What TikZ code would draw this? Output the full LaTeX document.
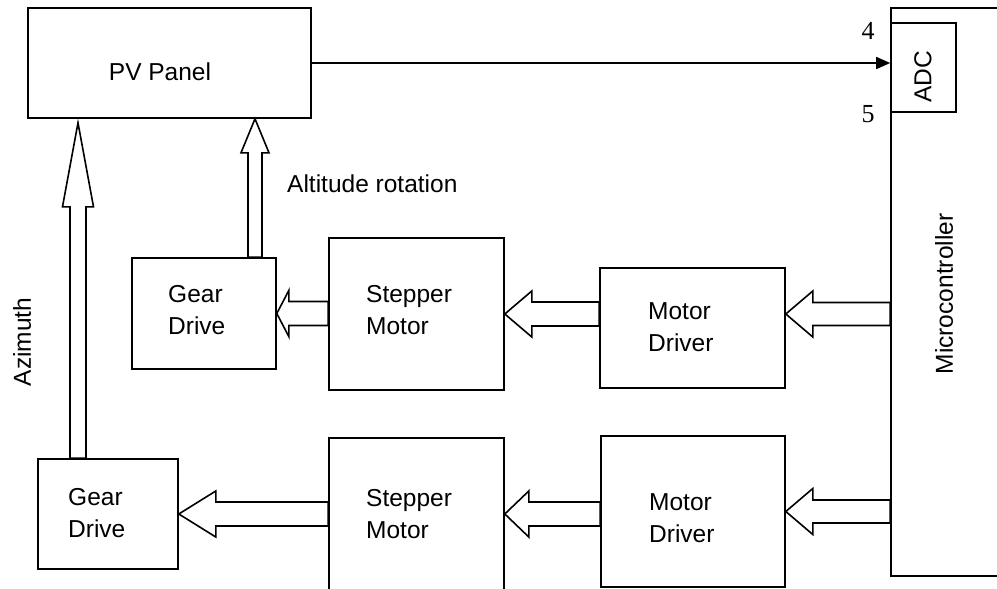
\documentclass[tikz,border=0pt]{standalone}
\usepackage{fontspec}
\setmainfont{Liberation Sans}
\newfontfamily\timesfont{Liberation Serif}
\usetikzlibrary{arrows.meta,calc}

\newcommand\hollowleft[5]{%
  \path[hollow] let \p1=#1, \p2=#2 in
    (\x1,\y1) -- (\x1+#3pt,\y1+#5pt) -- (\x1+#3pt,\y1+#4pt) -- (\x2,\y1+#4pt)
    -- (\x2,\y1-#4pt) -- (\x1+#3pt,\y1-#4pt) -- (\x1+#3pt,\y1-#5pt) -- cycle;}
\newcommand\hollowup[5]{%
  \path[hollow] let \p1=#1, \p2=#2 in
    (\x1,\y1) -- (\x1+#5pt,\y1-#3pt) -- (\x1+#4pt,\y1-#3pt) -- (\x1+#4pt,\y2)
    -- (\x1-#4pt,\y2) -- (\x1-#4pt,\y1-#3pt) -- (\x1-#5pt,\y1-#3pt) -- cycle;}

\begin{document}
\begin{tikzpicture}[x=1pt,y=-1pt,
  box/.style={draw, rectangle, inner sep=0pt, line width=1.6pt},
  lbl/.style={inner sep=0pt, font=\fontsize{24.5}{32}\selectfont, align=left},
  num/.style={inner sep=0pt, font=\timesfont\fontsize{26}{30}\selectfont},
  hollow/.style={draw, line width=1.6pt, line join=miter}]

\useasboundingbox (0,0) rectangle (997,589);
\clip (0,0) rectangle (997,589);

% boxes
\node[box, minimum width=283pt, minimum height=110pt] (pv)  at (169.5,63) {};
\node[box, minimum width=144pt, minimum height=111pt] (gd1) at (204,313.5) {};
\node[box, minimum width=175pt, minimum height=152pt] (sm1) at (416.5,314) {};
\node[box, minimum width=185pt, minimum height=120pt] (md1) at (692.5,328) {};
\node[box, minimum width=140pt, minimum height=110pt] (gd2) at (108,514) {};
\node[box, minimum width=175pt, minimum height=202pt] (sm2) at (416.5,539) {};
\node[box, minimum width=184pt, minimum height=151pt] (md2) at (693,511.5) {};
\node[box, minimum width=119pt, minimum height=568pt] (mc)  at (950.5,292) {};
\node[box, minimum width=65pt,  minimum height=89pt]  (adc) at (923.5,67.5) {};

% labels
\node[lbl] (tpv) at (160,72) {PV Panel};
\node[lbl, anchor=west] (tgd1) at (168,310.5) {Gear\\Drive};
\node[lbl, anchor=west] (tsm1) at (366,310.5) {Stepper\\Motor};
\node[lbl, anchor=west] (tmd1) at (648,327) {Motor\\Driver};
\node[lbl, anchor=west] (tgd2) at (68,513.5) {Gear\\Drive};
\node[lbl, anchor=west] (tsm2) at (366,514) {Stepper\\Motor};
\node[lbl, anchor=west] (tmd2) at (649,518.5) {Motor\\Driver};
\node[lbl, rotate=90] (tmc) at (944,294) {Microcontroller};
\node[lbl, rotate=90] (tadc) at (923,77) {ADC};
\node[lbl, rotate=90] (taz) at (22,342) {Azimuth};
\node[lbl, anchor=west] (talt) at (287,184) {Altitude rotation};
\node[num] (n4) at (868,31) {4};
\node[num] (n5) at (868,114) {5};

% signal arrow
\draw[line width=1.6pt, -{Triangle[length=14pt,width=12pt]}] (pv.east) -- (pv.east -| adc.west);

% hollow arrows (horizontal)
\hollowleft{(gd1.east)}{(sm1.west)}{12}{12}{23}
\hollowleft{(sm1.east)}{(md1.west)}{27}{12}{23}
\hollowleft{(md1.east |- sm1.east)}{(mc.west)}{27}{11.5}{23}
\hollowleft{(gd2.east)}{(sm2.west)}{37}{12}{23}
\hollowleft{(sm2.east |- gd2.east)}{(md2.west)}{24}{12}{23}
\hollowleft{(md2.east)}{(mc.west)}{27}{11.5}{23}

% hollow arrows (vertical)
\coordinate (altx) at (255,0);
\coordinate (azx) at (78,0);
\hollowup{(altx |- pv.south)}{(altx |- gd1.north)}{34}{7}{14}
\hollowup{($(azx |- pv.south)+(0,4)$)}{(azx |- gd2.north)}{84}{8}{15.5}

\end{tikzpicture}
\end{document}
